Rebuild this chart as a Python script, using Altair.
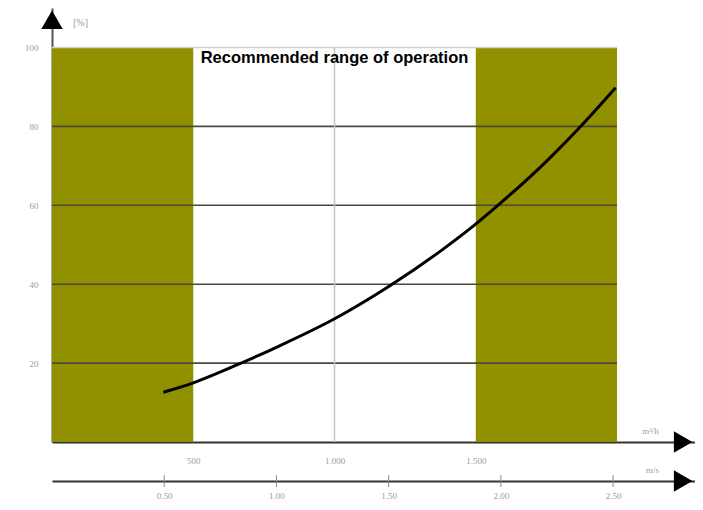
import altair as alt
import pandas as pd

# ---- data ----
flow = [394, 500, 650, 800, 1002, 1196, 1381, 1503, 1574, 1751, 1870, 1995]   # m³/h
pct = [12.6, 15.0, 19.4, 24.2, 31.3, 39.6, 48.7, 55.4, 59.7, 71.2, 79.9, 89.8]  # %
band_start = [0, 1500]
band_end = [500, 2000]
band_low = [0, 0]
band_high = [100, 100]
grid_dark = [20, 40, 60, 80]
grid_light = [100]
vgrid_flow = [1000]
flow_ticks = [500, 1000, 1500]
vel_ticks = [0.5, 1.0, 1.5, 2.0, 2.5]
y_ticks = [20, 40, 60, 80, 100]
annotation = ["Recommended range of operation"]
annotation_x = [1000]
annotation_y = [97.4]
arrow_x = [2234, 2234, 0]
arrow_y = [0, -9.9, 107.0]
arrow_shape = ["triangle-right", "triangle-right", "triangle-up"]
vel_tick_top = [-8.4] * 5
vel_tick_bottom = [-11.4] * 5
unit_y = "[%]"
unit_flow = "m³/h"
unit_vel = "m/s"

OLIVE = "#919100"
LABEL = "#9a9a9a"
SERIF = "Liberation Serif"

xscale = alt.Scale(domain=[0, 2276], nice=False, zero=False)
yscale = alt.Scale(domain=[0, 110], nice=False, zero=False)
vscale = alt.Scale(domain=[0, 2.865], nice=False, zero=False)

xaxis1 = alt.Axis(
    values=flow_ticks, labelExpr="replace(format(datum.value, ','), ',', '.')",
    ticks=False, grid=False, domainColor="#333333", domainWidth=2,
    labelColor=LABEL, labelFont=SERIF, labelFontSize=9, labelPadding=14,
    title=unit_flow, titleX=598, titleY=-12, titleAlign="center", titleBaseline="middle",
    titleFont=SERIF, titleFontSize=9, titleFontWeight="normal", titleColor=LABEL,
)
xaxis2 = alt.Axis(
    orient="bottom", offset=39, values=vel_ticks, format=".2f",
    ticks=False, grid=False, domainColor="#333333", domainWidth=2,
    labelColor=LABEL, labelFont=SERIF, labelFontSize=9, labelPadding=10,
    title=unit_vel, titleX=600, titleY=-12, titleAlign="center", titleBaseline="middle",
    titleFont=SERIF, titleFontSize=9, titleFontWeight="normal", titleColor=LABEL,
)
yaxis = alt.Axis(
    values=y_ticks, ticks=False, grid=False, domainColor="#555555", domainWidth=2,
    labelColor=LABEL, labelFont=SERIF, labelFontSize=9, labelPadding=14,
    title=unit_y, titleAngle=0, titleX=28, titleY=14, titleAlign="center",
    titleBaseline="middle", titleFont=SERIF, titleFontSize=10, titleFontWeight="normal",
    titleColor=LABEL,
)


def X(f):
    return alt.X(f, type="quantitative", scale=xscale, axis=xaxis1)


def Y(f):
    return alt.Y(f, type="quantitative", scale=yscale, axis=yaxis)


bands = alt.Chart(pd.DataFrame({"a": band_start, "b": band_end, "lo": band_low, "hi": band_high})).mark_rect(
    color=OLIVE
).encode(x=X("a"), x2="b", y=Y("lo"), y2="hi")

hgrid = alt.Chart(pd.DataFrame({"g": grid_dark, "s": [0] * 4, "e": [2000] * 4})).mark_rule(
    color="#4a4a3a", strokeWidth=1.6
).encode(x=X("s"), x2="e", y=Y("g"))

hgrid_top = alt.Chart(pd.DataFrame({"g": grid_light, "s": [0], "e": [2000]})).mark_rule(
    color="#d0d0d0", strokeWidth=1.5
).encode(x=X("s"), x2="e", y=Y("g"))

vgrid = alt.Chart(pd.DataFrame({"v": vgrid_flow, "lo": [0], "hi": [100]})).mark_rule(
    color="#c4c4c4", strokeWidth=1.5
).encode(x=X("v"), y=Y("lo"), y2="hi")

curve = alt.Chart(pd.DataFrame({"q": flow, "p": pct})).mark_line(
    color="black", strokeWidth=3, interpolate="monotone"
).encode(x=X("q"), y=Y("p"))

text = alt.Chart(pd.DataFrame({"t": annotation, "x": annotation_x, "y": annotation_y})).mark_text(
    font="Liberation Sans", fontWeight="bold", fontSize=16.5, color="black",
    align="center", baseline="middle"
).encode(x=X("x"), y=Y("y"), text="t")

arrows = alt.Chart(pd.DataFrame({"x": arrow_x, "y": arrow_y, "s": arrow_shape})).mark_point(
    filled=True, color="black", opacity=1, size=460
).encode(x=X("x"), y=Y("y"), shape=alt.Shape("s:N", scale=None, legend=None))

main = alt.layer(bands, hgrid, hgrid_top, vgrid, curve, text, arrows)

vel = alt.Chart(pd.DataFrame({"v": vel_ticks, "t": vel_tick_top, "b": vel_tick_bottom})).mark_rule(
    color="#888888", strokeWidth=1
).encode(
    x=alt.X("v:Q", scale=vscale, axis=xaxis2),
    y=Y("t"), y2="b",
)

chart = alt.layer(main, vel).resolve_scale(x="independent").properties(
    width=643, height=434,
    autosize=alt.AutoSizeParams(type="none"),
    padding={"left": 44, "top": 0, "right": 0, "bottom": 60},
    background="white",
).configure_view(stroke="transparent", strokeWidth=0)

chart.save("out.html", embed_options={"renderer": "svg", "actions": False})
